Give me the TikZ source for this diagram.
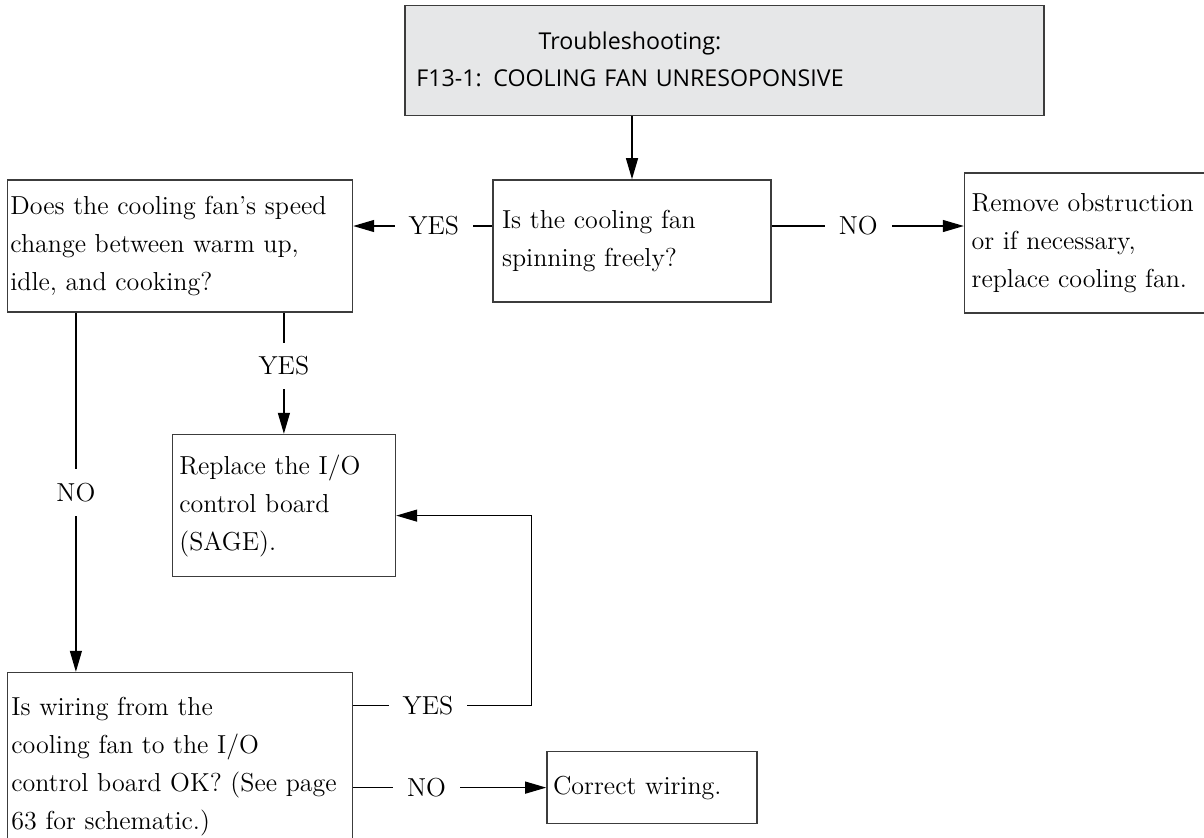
\documentclass[tikz,border=0pt]{standalone}
\usepackage{fontspec}
\usepackage{tikz}
\usetikzlibrary{arrows.meta,positioning}
\newfontfamily\titlefont{Open Sans}
\newcommand{\bodyfont}{\fontsize{13pt}{19pt}\selectfont}
\definecolor{boxgray}{RGB}{60,60,60}
\definecolor{titlefill}{RGB}{230,231,232}
\tikzset{
 titlebox/.style={
 rectangle,
 draw=boxgray,
 fill=titlefill,
 line width=0.8pt,
 align=left,
 text width=313.5pt,
 inner xsep=3pt,
 minimum height=55pt,
 font=\titlefont\fontsize{11.6pt}{18.5pt}\selectfont
 },
 stepbox/.style={
 rectangle,
 draw=boxgray,
 line width=0.8pt,
 align=left,
 font=\bodyfont
 },
 answer/.style={
 fill=white,
 inner sep=7pt,
 font=\bodyfont
 },
 flowarrow/.style={-{Triangle[length=10.5pt,width=6pt]}, line width=0.6pt, draw=black}
}

\begin{document}
\begin{tikzpicture}[x=0.5pt, y=-0.5pt]
	\useasboundingbox (0,0) rectangle (1204,837);

	\node[stepbox, text width=130pt, inner xsep=4.5pt, minimum height=61pt] (spin) at (632,241)
		{Is the cooling fan\\spinning freely?};

	\node[titlebox, above=31.5pt of spin, xshift=46.25pt] (title)
		{\makebox[219pt]{\begin{tabular}{@{}c@{}}Troubleshooting:\\F13-1: COOLING FAN UNRESOPONSIVE\end{tabular}}};

	\node[stepbox, text width=169.5pt, inner xsep=1.5pt, minimum height=66pt, left=69.5pt of spin, yshift=-2.5pt] (speed)
		{Does the cooling fan's speed\\change between warm up,\\idle, and cooking?};
	\node[stepbox, text width=116.5pt, inner xsep=3.5pt, minimum height=70pt, right=96pt of spin, yshift=-1pt] (remove)
		{Remove obstruction\\or if necessary,\\replace cooling fan.};

	\node[stepbox, text width=104.5pt, inner xsep=3.5pt, minimum height=71pt, below=60.5pt of speed, xshift=52pt] (replace)
		{Replace the I/O\\control board\\(SAGE).};
	\node[stepbox, text width=168.5pt, inner xsep=2pt, minimum height=94pt, below=179.5pt of speed] (wiring)
		{Is wiring from the\\cooling fan to the I/O\\control board OK? (See page\\63 for schematic.)};
	\node[stepbox, text width=99pt, inner xsep=3pt, minimum height=36pt, right=96.5pt of wiring, yshift=-10.5pt] (correct)
		{Correct wiring.};

	\draw[flowarrow] (title.south -| spin.north) -- (spin.north);
	\draw[flowarrow] ([yshift=7.5pt]spin.west) -- node[answer, pos=0.42] {YES} ([yshift=7.5pt]spin.west -| speed.east);
	\draw[flowarrow] ([yshift=7.5pt]spin.east) -- node[answer, pos=0.45] {NO} ([yshift=7.5pt]spin.east -| remove.west);

	\draw[flowarrow] (speed.south -| replace.north) -- node[answer, pos=0.44] {YES} (replace.north);
	\draw[flowarrow] ([xshift=-52pt]speed.south) -- node[answer] {NO} ([xshift=-52pt]wiring.north);

	\draw[flowarrow] ([yshift=30.5pt]wiring.east) -- node[answer, pos=0.42] {YES} ++(89pt,0) |- ([yshift=-5pt]replace.east);
	\draw[flowarrow] (wiring.east |- correct.west) -- node[answer, pos=0.38] {NO} (correct.west);
\end{tikzpicture}
\end{document}
